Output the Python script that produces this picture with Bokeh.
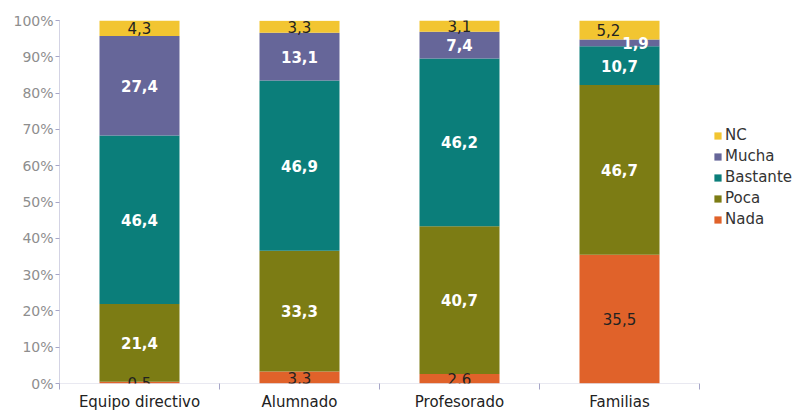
from bokeh.plotting import figure
from bokeh.models import ColumnDataSource, FixedTicker, Legend, LegendItem, Range1d, LabelSet, CustomJSTickFormatter
from bokeh.core.properties import value
from bokeh.embed import file_html
from bokeh.resources import INLINE

categories = ["Equipo directivo", "Alumnado", "Profesorado", "Familias"]
series = ["Nada", "Poca", "Bastante", "Mucha", "NC"]
nada = [0.5, 3.3, 2.6, 35.5]
poca = [21.4, 33.3, 40.7, 46.7]
bastante = [46.4, 46.9, 46.2, 10.7]
mucha = [27.4, 13.1, 7.4, 1.9]
nc = [4.3, 3.3, 3.1, 5.2]
y_ticks = [0, 10, 20, 30, 40, 50, 60, 70, 80, 90, 100]

values = {"Nada": nada, "Poca": poca, "Bastante": bastante, "Mucha": mucha, "NC": nc}
colors = {"Nada": "#E0622A", "Poca": "#7C7C14", "Bastante": "#0B7E7A", "Mucha": "#666699", "NC": "#F2C531"}
label_colors = {"Nada": "#222222", "Poca": "white", "Bastante": "white", "Mucha": "white", "NC": "#222222"}
label_styles = {"Nada": "normal", "Poca": "bold", "Bastante": "bold", "Mucha": "bold", "NC": "normal"}
# small manual shifts of a few labels (pixels), as in the original
label_dx = {("Familias", "Mucha"): 16, ("Familias", "NC"): -11}

FONT = "DejaVu Sans"
AXIS_COLOR = "#A6A6C8"

# frame spans 59..798 px; each category slot is 160 px wide
n = len(categories)
p = figure(width=798, height=413, output_backend="svg", toolbar_location=None,
           x_range=Range1d(0, 739 / 160), y_range=Range1d(0, 100),
           min_border_left=59, min_border_right=0, min_border_top=20, min_border_bottom=30)
p.outline_line_color = None
p.grid.grid_line_color = None
p.background_fill_color = "white"
p.border_fill_color = "white"

xs = [i + 0.5 for i in range(n)]
bottoms = [0.0] * n
renderers = {}
for s in series:
    vals = values[s]
    tops = [b + v for b, v in zip(bottoms, vals)]
    src = ColumnDataSource(dict(x=xs, bottom=bottoms, top=tops))
    r = p.vbar(x="x", bottom="bottom", top="top", width=0.5, source=src,
               fill_color=colors[s], line_color=None)
    renderers[s] = r
    mids = [(b + t) / 2 for b, t in zip(bottoms, tops)]
    texts = [f"{v:.1f}".replace(".", ",") for v in vals]
    dxs = [label_dx.get((c, s), 0) for c in categories]
    lsrc = ColumnDataSource(dict(x=xs, y=mids, text=texts, dx=dxs))
    p.add_layout(LabelSet(x="x", y="y", text="text", x_offset="dx", source=lsrc,
                          text_align="center", text_baseline="middle",
                          text_font=value(FONT), text_font_size=value("15px"),
                          text_font_style=value(label_styles[s]), text_color=value(label_colors[s])))
    bottoms = tops

# x axis baseline only across the category slots
p.segment(x0=[0], y0=[0], x1=[n], y1=[0], line_color=AXIS_COLOR, line_dash="1 1", line_width=1)

# y axis
ya = p.yaxis[0]
ya.ticker = FixedTicker(ticks=y_ticks)
ya.formatter = CustomJSTickFormatter(code="return tick.toFixed(0) + '%';")
ya.major_label_text_font = FONT
ya.major_label_text_font_size = "14px"
ya.major_label_text_color = "#8E8E8E"
ya.axis_line_color = AXIS_COLOR
ya.axis_line_dash = "1 1"
ya.major_tick_line_color = AXIS_COLOR
ya.major_tick_out = 4
ya.major_tick_in = 0
ya.minor_tick_line_color = None
ya.major_label_standoff = 2

# x axis: ticks at boundaries, labels at centres
xa = p.xaxis[0]
xa.ticker = FixedTicker(ticks=xs, minor_ticks=list(range(n + 1)))
xa.major_label_overrides = {x: c for x, c in zip(xs, categories)}
xa.major_tick_line_color = None
xa.major_tick_out = 0
xa.minor_tick_line_color = AXIS_COLOR
xa.minor_tick_out = 6
xa.minor_tick_in = 0
xa.axis_line_color = None
xa.major_label_text_font = FONT
xa.major_label_text_font_size = "15px"
xa.major_label_text_color = "#222222"
xa.major_label_standoff = 3

items = [LegendItem(label=s, renderers=[renderers[s]]) for s in reversed(series)]
legend = Legend(items=items, location=(654, 154), orientation="vertical",
                label_text_font=FONT, label_text_font_size="15px", label_text_color="#333333",
                glyph_width=9, glyph_height=9, label_standoff=3, spacing=1,
                label_height=20, padding=0, margin=0,
                border_line_color=None, background_fill_alpha=0)
p.add_layout(legend, "center")

open("out.html", "w").write(file_html(p, INLINE))
